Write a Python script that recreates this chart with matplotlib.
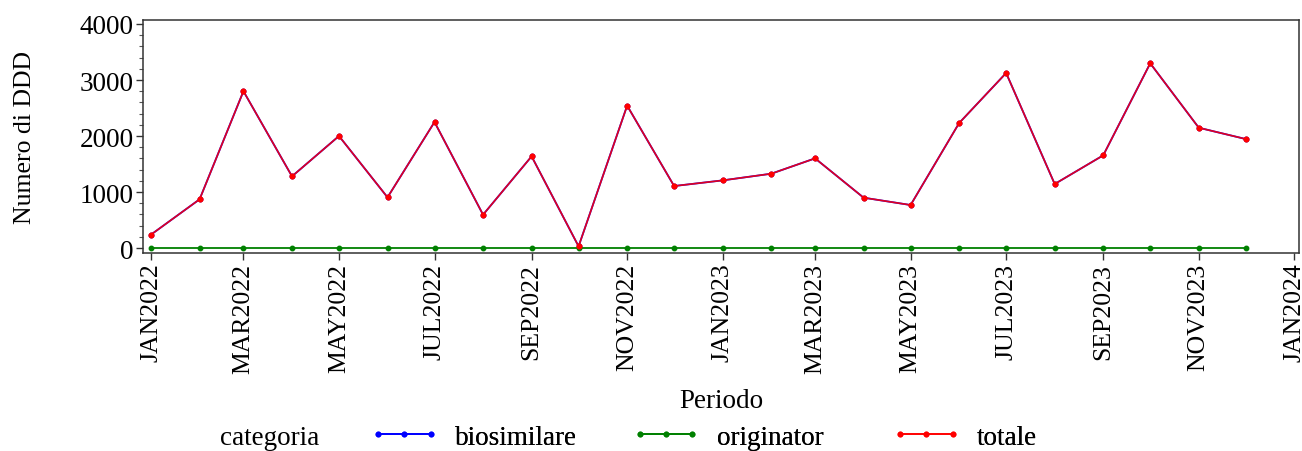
import matplotlib
matplotlib.use("Agg")

import matplotlib.pyplot as plt
import matplotlib.dates as mdates
from matplotlib.ticker import MultipleLocator, FuncFormatter
from datetime import date

# monthly data, Jan 2022 - Dec 2023
months = [date(2022 + i // 12, i % 12 + 1, 1) for i in range(24)]
totale = [240, 870, 2800, 1280, 2000, 905, 2250, 595, 1637, 30, 2542, 1107,
          1208, 1327, 1601, 899, 768, 2232, 3125, 1143, 1655, 3298, 2148, 1946]
biosimilare = list(totale)
originator = [0] * 24

plt.rcParams["font.family"] = ["Liberation Serif", "DejaVu Serif"]

fig = plt.figure(figsize=(13.02, 4.52), dpi=100)
ax = fig.add_axes([0.110, 0.438, 0.8877, 0.5155])

ax.plot(months, biosimilare, color="#0000ff", lw=1.3, marker="o", ms=3.2,
        label="biosimilare")
ax.plot(months, originator, color="#008000", lw=1.3, marker="o", ms=3.2,
        label="originator")
ax.plot(months, totale, color="#ff0000", lw=1.2, alpha=0.88, marker="o",
        ms=3.2, label="totale")
ax.plot(months, totale, ls="none", marker="o", ms=3.2, color="#ff0000")

ax.set_xlim(date(2021, 12, 27), date(2024, 1, 4))
ax.set_ylim(-89, 4071)

ax.xaxis.set_major_locator(mdates.MonthLocator(bymonth=[1, 3, 5, 7, 9, 11]))
ax.xaxis.set_major_formatter(
    FuncFormatter(lambda v, p: mdates.num2date(v).strftime("%b%Y").upper()))
ax.yaxis.set_major_locator(MultipleLocator(1000))
ax.yaxis.set_minor_locator(MultipleLocator(200))

ax.tick_params(axis="x", labelrotation=90, labelsize=18.5, length=5, width=1,
               pad=2, colors="#333333", labelcolor="black")
ax.tick_params(axis="y", which="major", labelsize=19.5, length=5, width=1,
               pad=2, colors="#333333", labelcolor="black")
ax.tick_params(axis="y", which="minor", length=3, width=0.8, colors="#555555")
for s in ax.spines.values():
    s.set_color("#333333")
    s.set_linewidth(1.1)

ax.set_ylabel("Numero di DDD", fontsize=18.5)
ax.yaxis.set_label_coords(-0.093, 0.5)
fig.text(0.554, 0.111, "Periodo", fontsize=19.5, ha="center", va="center")

# legend row: title + one entry per series
fig.text(0.207, 0.03, "categoria", fontsize=19.5, ha="center", va="center")
handles, labels = ax.get_legend_handles_labels()
leg_x = [0.284, 0.485, 0.685]
for h, l, x in zip(handles, labels, leg_x):
    leg = fig.legend([h], [l], loc="center left", bbox_to_anchor=(x, 0.03),
                     frameon=False, fontsize=19.5, numpoints=3,
                     handlelength=2.55, handletextpad=0.6,
                     borderpad=0, borderaxespad=0)
    for lh in leg.legend_handles:
        lh.set_alpha(1)
    fig.add_artist(leg)

plt.savefig("out.png", dpi=100)
